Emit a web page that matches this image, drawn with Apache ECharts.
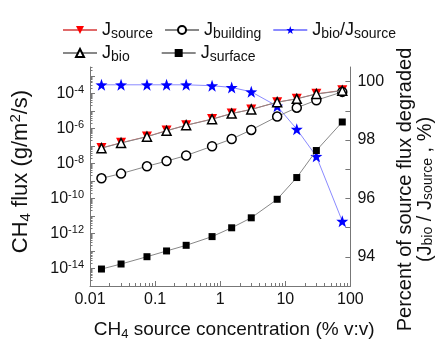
<!DOCTYPE html>
<html><head><meta charset="utf-8">
<script src="https://cdn.jsdelivr.net/npm/echarts@6/dist/echarts.min.js"></script>
<style>html,body{margin:0;padding:0;background:#fff}#c{width:443px;height:346px}</style>
</head><body><div id="c"></div>
<script>
// ---- data ----
const concentration = [0.015, 0.03, 0.075, 0.15, 0.3, 0.75, 1.5, 3, 7.5, 15, 30, 75];   // % v:v
const jSource   = [7.6e-8, 1.5e-7, 3.4e-7, 7.4e-7, 1.5e-6, 3.4e-6, 7.0e-6, 1.2e-5, 3.1e-5, 4.9e-5, 9.3e-5, 1.47e-4]; // g/m2/s
const jBio      = [7.4e-8, 1.45e-7, 3.3e-7, 7.2e-7, 1.5e-6, 3.3e-6, 6.9e-6, 1.2e-5, 3.1e-5, 4.8e-5, 9.1e-5, 1.4e-4];
const jBuilding = [1.4e-9, 2.6e-9, 6.8e-9, 1.35e-8, 2.8e-8, 9.5e-8, 2.45e-7, 8.1e-7, 4.7e-6, 1.5e-5, 4.0e-5, 1.2e-4];
const jSurface  = [9.3e-15, 1.8e-14, 4.7e-14, 1.0e-13, 2.1e-13, 6.6e-13, 2.1e-12, 7.8e-12, 8.9e-11, 1.55e-9, 5.4e-8, 2.3e-6];
const ratioPct  = [99.89, 99.89, 99.89, 99.89, 99.89, 99.86, 99.80, 99.65, 99.16, 98.37, 97.44, 95.22];

const xTickLabels = [0.01, 0.1, 1, 10, 100];
const leftLabelExps = [-14, -12, -10, -8, -6, -4];     // labels 10^n
const leftMajorExps = [-15, -14, -13, -12, -11, -10, -9, -8, -7, -6, -5, -4, -3];
const rightTickLabels = [94, 96, 98, 100];
const rightTicks = [93, 94, 95, 96, 97, 98, 99, 100];

// ---- helpers ----
const minorMult = [2, 3, 4, 5, 6, 7, 8, 9];
const xMinor = [];
[-2, -1, 0, 1].forEach(e => minorMult.forEach(k => xMinor.push(k * Math.pow(10, e))));
const yMinor = [];
leftMajorExps.forEach(e => minorMult.forEach(k => { const v = e + Math.log10(k); if (v <= -2.5) yMinor.push(v); }));

const pairs = (xs, ys, tf) => xs.map((x, i) => [x, tf ? Math.log10(ys[i]) : ys[i]]);

const FONT = "'Liberation Sans', Arial, sans-serif";
const AX = '#777';
const TXT = '#111';

const legendNames = {
  Jsource: '{m|J}{s|source}',
  Jbuilding: '{m|J}{s|building}',
  Jratio: '{m|J}{s|bio}{m|/J}{s|source}',
  Jbio: '{m|J}{s|bio}',
  Jsurface: '{m|J}{s|surface}'
};
const legendRich = {
  m: { fontSize: 18, lineHeight: 22, fontFamily: FONT, color: TXT },
  s: { fontSize: 14, lineHeight: 14, verticalAlign: 'bottom', fontFamily: FONT, color: TXT }
};
const supRich = {
  b: { fontSize: 16, lineHeight: 18, fontFamily: FONT, color: TXT },
  p: { fontSize: 11, lineHeight: 11, verticalAlign: 'top', fontFamily: FONT, color: TXT }
};
const mkNameRich = (sz) => ({
  s: { fontSize: sz, lineHeight: sz, verticalAlign: 'bottom', fontFamily: FONT, color: TXT },
  p: { fontSize: sz, lineHeight: sz, verticalAlign: 'top', fontFamily: FONT, color: TXT }
});

const STAR = 'path://M0,-10L2.35,-3.24L9.51,-3.09L3.8,1.24L5.88,8.09L0,4L-5.88,8.09L-3.8,1.24L-9.51,-3.09L-2.35,-3.24Z';

const chart = echarts.init(document.getElementById('c'), null, { renderer: 'canvas' });
chart.setOption({
  animation: false,
  backgroundColor: '#fff',
  textStyle: { fontFamily: FONT },
  grid: { left: 89, right: 92, top: 67, bottom: 57 },
  legend: [
    { data: ['Jsource', 'Jbuilding', 'Jratio'], left: 57, top: 16, itemWidth: 34, itemHeight: 10, itemGap: 11,
      formatter: n => legendNames[n], textStyle: { rich: legendRich } },
    { data: ['Jbio', 'Jsurface'], left: 57, top: 39, itemWidth: 34, itemHeight: 10, itemGap: 31,
      formatter: n => legendNames[n], textStyle: { rich: legendRich } }
  ],
  xAxis: [
    { type: 'log', logBase: 10, min: 0.01, max: 100, position: 'bottom',
      name: 'CH{s|4} source concentration (% v:v)', nameLocation: 'middle', nameGap: 33,
      nameTextStyle: { fontSize: 19, lineHeight: 22, color: TXT, fontFamily: FONT, rich: mkNameRich(13), padding: [0, 0, 0, 28] },
      axisLine: { lineStyle: { color: AX, width: 1 } },
      axisTick: { inside: true, length: 5, lineStyle: { color: AX }, customValues: xTickLabels },
      axisLabel: { fontSize: 16, color: TXT, fontFamily: FONT, margin: 6, customValues: xTickLabels,
        formatter: v => { const e = Math.round(Math.log10(v)); return e < 0 ? Math.pow(10, e).toFixed(-e) : String(Math.round(Math.pow(10, e))); } },
      splitLine: { show: false } },
    { type: 'log', logBase: 10, min: 0.01, max: 100, position: 'bottom', offset: 0,
      axisLine: { show: false }, axisLabel: { show: false }, splitLine: { show: false },
      axisTick: { inside: true, length: 3, lineStyle: { color: AX }, customValues: xMinor } }
  ],
  yAxis: [
    { type: 'value', min: -15, max: -2.5, position: 'left',
      name: 'CH{s|4} flux (g/m{p|2}/s)', nameLocation: 'middle', nameGap: 57,
      nameTextStyle: { fontSize: 22, lineHeight: 25, color: TXT, fontFamily: FONT, rich: mkNameRich(15), padding: [0, 0, 0, 10] },
      axisLine: { show: true, lineStyle: { color: AX, width: 1 } },
      axisTick: { show: true, inside: true, length: 5, lineStyle: { color: AX }, customValues: leftMajorExps },
      axisLabel: { margin: 6, customValues: leftLabelExps, formatter: v => '{b|10}{p|' + v + '}', rich: supRich },
      splitLine: { show: false } },
    { type: 'value', min: 93, max: 100.5, position: 'right',
      name: 'Percent of source flux degraded\n(J{s|bio} / J{s|source} , %)', nameLocation: 'middle', nameGap: 43,
      nameTextStyle: { fontSize: 20, lineHeight: 20, color: TXT, fontFamily: FONT, rich: mkNameRich(14), padding: [0, 26, 0, 0] },
      axisLine: { show: true, lineStyle: { color: AX, width: 1 } },
      axisTick: { show: true, inside: true, length: 5, lineStyle: { color: AX }, customValues: rightTicks },
      axisLabel: { fontSize: 16, color: TXT, fontFamily: FONT, margin: 7, customValues: rightTickLabels },
      splitLine: { show: false } },
    { type: 'value', min: -15, max: -2.5, position: 'left', offset: 0,
      axisLine: { show: false }, axisLabel: { show: false }, splitLine: { show: false },
      axisTick: { show: true, inside: true, length: 2.5, lineStyle: { color: AX }, customValues: yMinor } }
  ],
  series: [
    { name: 'Jsource', type: 'line', xAxisIndex: 0, yAxisIndex: 0, data: pairs(concentration, jSource, true),
      symbol: 'triangle', symbolRotate: 180, symbolSize: 10,
      itemStyle: { color: '#ff0000' }, lineStyle: { color: '#e06a6a', width: 1 }, z: 2 },
    { name: 'Jratio', type: 'line', xAxisIndex: 0, yAxisIndex: 1, data: pairs(concentration, ratioPct, false),
      symbol: STAR, symbolSize: 12,
      itemStyle: { color: '#0000ff' }, lineStyle: { color: '#8a8aff', width: 1 }, z: 3 },
    { name: 'Jbuilding', type: 'line', xAxisIndex: 0, yAxisIndex: 0, data: pairs(concentration, jBuilding, true),
      symbol: 'circle', symbolSize: 9,
      itemStyle: { color: '#fff', borderColor: '#000', borderWidth: 1.5 }, lineStyle: { color: '#888', width: 1 }, z: 4 },
    { name: 'Jbio', type: 'line', xAxisIndex: 0, yAxisIndex: 0, data: pairs(concentration, jBio, true),
      symbol: 'triangle', symbolSize: 9,
      itemStyle: { color: '#fff', borderColor: '#000', borderWidth: 1.5 }, lineStyle: { color: '#888', width: 1 }, z: 5 },
    { name: 'Jsurface', type: 'line', xAxisIndex: 0, yAxisIndex: 0, data: pairs(concentration, jSurface, true),
      symbol: 'rect', symbolSize: 7,
      itemStyle: { color: '#000' }, lineStyle: { color: '#888', width: 1 }, z: 5 }
  ]
});
</script>
</body></html>
